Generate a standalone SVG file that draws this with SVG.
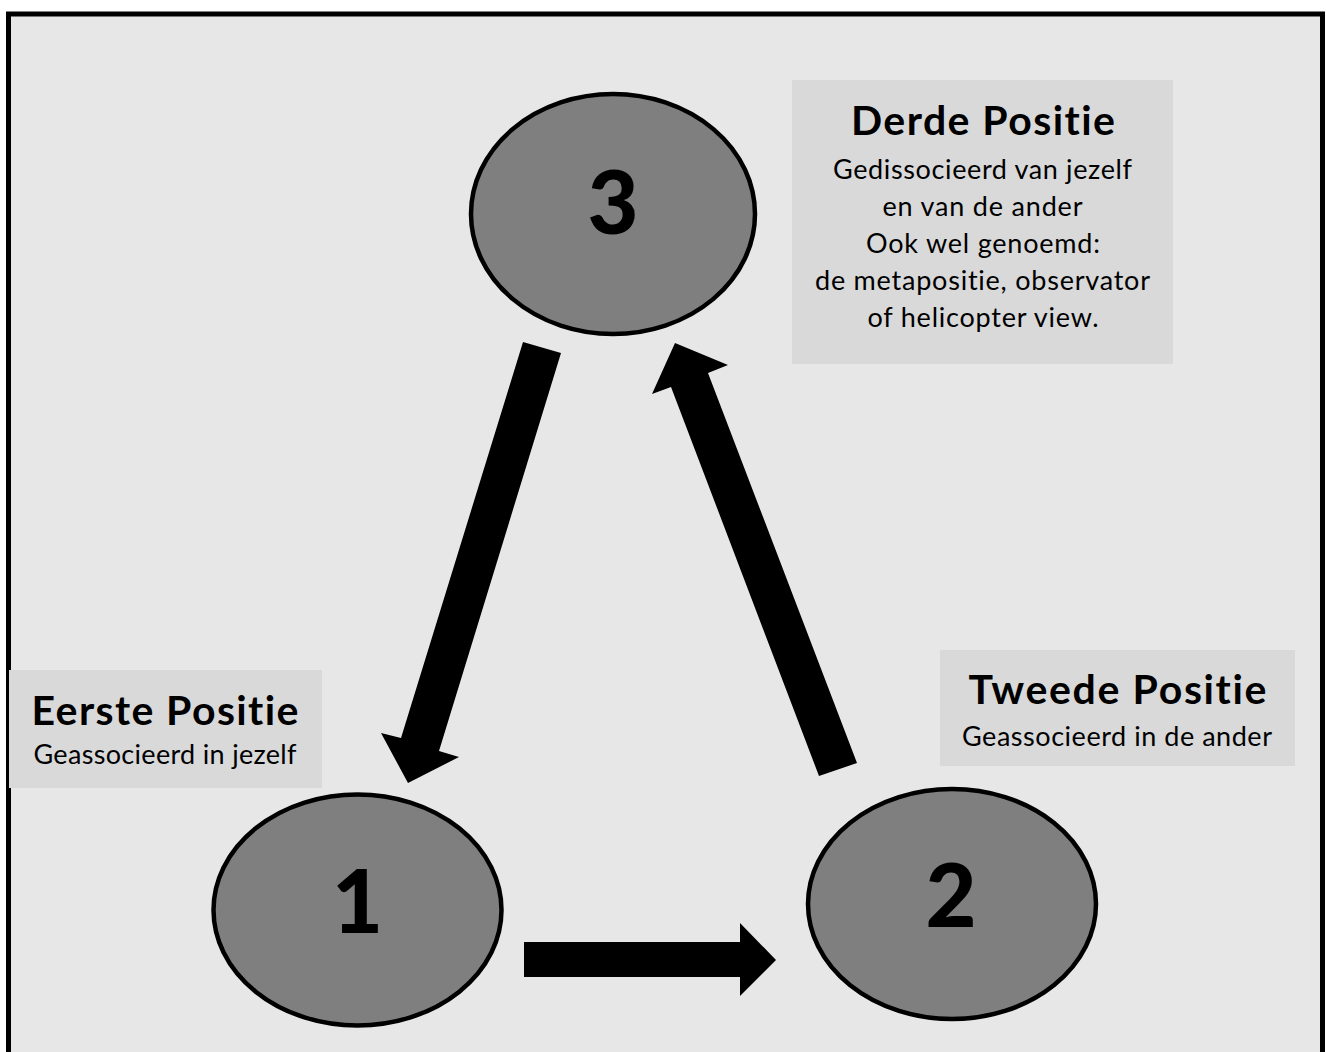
<svg xmlns="http://www.w3.org/2000/svg" width="1326" height="1052" viewBox="0 0 1326 1052">
  <style>
    text { font-family: Lato, "Open Sans", sans-serif; fill: #000; text-anchor: middle; font-variant-ligatures: none; font-feature-settings: "liga" 0; }
    .frame { fill: #e7e7e7; stroke: #000; stroke-width: 5; }
    .box { fill: #d9d9d9; }
    .node { fill: #7f7f7f; stroke: #000; stroke-width: 4.5; }
    .num { font-weight: 900; font-size: 88px; }
    .title { font-weight: bold; font-size: 41px; }
    .body { font-size: 27px; }
    .arrow { fill: #000; }
  </style>

  <rect x="0" y="0" width="1326" height="1052" fill="#ffffff"/>
  <!-- outer frame, open at the bottom edge -->
  <rect class="frame" x="8.5" y="14" width="1314" height="1060"/>

  <!-- label boxes -->
  <g id="label-derde">
    <rect class="box" x="792" y="80" width="381" height="284"/>
    <text class="title" x="983" y="135" textLength="264">Derde Positie</text>
    <text class="body" x="982.5" y="179" textLength="299">Gedissocieerd van jezelf</text>
    <text class="body" x="982.5" y="216" textLength="200">en van de ander</text>
    <text class="body" x="983" y="253" textLength="234">Ook wel genoemd:</text>
    <text class="body" x="982.5" y="290" textLength="335">de metapositie, observator</text>
    <text class="body" x="983" y="327" textLength="231">of helicopter view.</text>
  </g>

  <g id="label-eerste">
    <rect class="box" x="9" y="670" width="313" height="118"/>
    <text class="title" x="165" y="725" textLength="267">Eerste Positie</text>
    <text class="body" x="165" y="764" textLength="263">Geassocieerd in jezelf</text>
  </g>

  <g id="label-tweede">
    <rect class="box" x="940" y="650" width="355" height="116"/>
    <text class="title" x="1117.5" y="704" textLength="298">Tweede Positie</text>
    <text class="body" x="1117" y="746" textLength="310">Geassocieerd in de ander</text>
  </g>

  <!-- position nodes -->
  <g id="node-3">
    <ellipse class="node" cx="613" cy="214" rx="142" ry="120"/>
    <text class="num" x="613" y="234">3</text>
  </g>
  <g id="node-1">
    <ellipse class="node" cx="357.5" cy="910" rx="144" ry="115.5"/>
    <text class="num" x="357.5" y="933">1</text>
  </g>
  <g id="node-2">
    <ellipse class="node" cx="952" cy="904" rx="144" ry="115"/>
    <text class="num" x="951" y="927">2</text>
  </g>

  <!-- block arrows between positions -->
  <g id="connectors">
    <polygon class="arrow" points="523,342 561,353 439,751 459,757 408,783 381,733 401,738"/>
    <polygon class="arrow" points="675,343 728,365 708,373 857,763 819,776 671,387 652,394"/>
    <polygon class="arrow" points="524,942 740,942 740,923 776,960 740,996 740,977 524,977"/>
  </g>
</svg>
